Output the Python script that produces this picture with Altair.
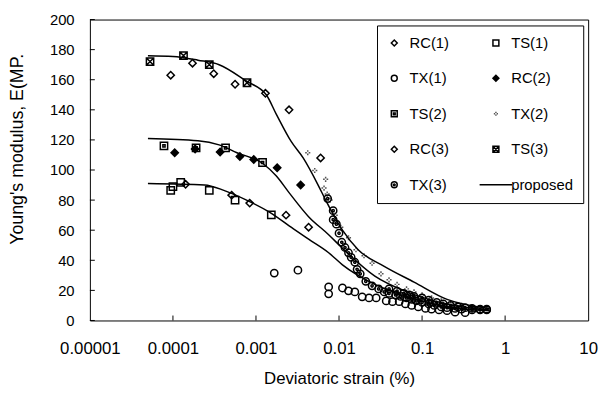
import altair as alt
import pandas as pd

# ---------------- data ----------------
series_names = ["RC(1)", "TS(1)", "TX(1)", "RC(2)", "TS(2)", "TX(2)",
                "RC(3)", "TS(3)", "TX(3)", "proposed"]

rc1_x = [1.42e-4, 5.1e-4, 8.4e-4, 2.3e-3, 4.3e-3]
rc1_y = [90.5, 83.3, 78, 70, 62]
ts1_x = [9.4e-5, 1.0e-4, 1.24e-4, 2.74e-4, 5.6e-4, 1.53e-3]
ts1_y = [86.5, 89, 91.8, 86.5, 80, 70.2]
tx1_x = [1.66e-3, 3.2e-3, 7.5e-3, 7.5e-3, 1.1e-2, 1.3e-2, 1.55e-2, 1.9e-2, 2.3e-2,
         2.8e-2, 3.7e-2, 4.4e-2, 5.3e-2, 6.3e-2, 7.5e-2, 9e-2, 0.11, 0.13, 0.16,
         0.2, 0.25, 0.33, 0.6]
tx1_y = [31.5, 33.4, 22.3, 17.7, 21.6, 19.7, 19, 15.7, 15, 15, 13, 12.5, 12.5, 11,
         10, 9, 8, 7.5, 7, 6.5, 5.5, 5.2, 7]

rc2_x = [1.05e-4, 1.85e-4, 3.7e-4, 6.4e-4, 9.4e-4, 1.8e-3, 3.45e-3]
rc2_y = [111.5, 114, 112, 109, 107, 101.5, 90]
ts2_x = [7.8e-5, 1.9e-4, 4.3e-4, 1.2e-3]
ts2_y = [116, 114.7, 114.7, 105]
tx2_x = [4.2e-3, 5.1e-3, 6.6e-3, 6.9e-3, 7.2e-3, 7.8e-3, 9e-3, 1.05e-2, 1.3e-2,
         1.6e-2, 2.0e-2, 2.5e-2, 3.2e-2, 4.0e-2, 5.0e-2, 6.5e-2, 8e-2, 0.1, 0.13,
         0.17, 0.22, 0.3, 0.4, 0.5]
tx2_y = [111.5, 99.7, 88, 93.8, 84, 80, 70, 62, 55, 47, 43, 38, 31, 27, 24, 21, 19,
         17, 15, 13, 11, 10, 9, 8.5]

rc3_x = [9.4e-5, 1.72e-4, 3.1e-4, 5.6e-4, 1.3e-3, 2.5e-3, 6.0e-3]
rc3_y = [163, 171, 164, 157, 151, 140, 108]
ts3_x = [5.3e-5, 1.34e-4, 2.74e-4, 7.8e-4]
ts3_y = [172, 176, 170, 158]
tx3_x = [7.3e-3, 8.5e-3, 8.5e-3, 9.3e-3, 1.0e-2, 1.08e-2, 1.18e-2, 1.3e-2, 1.4e-2,
         1.55e-2, 1.65e-2, 1.8e-2, 2.1e-2, 2.5e-2, 3.0e-2, 3.5e-2, 4.0e-2, 4.8e-2,
         5.5e-2, 6.5e-2, 7.5e-2, 8.5e-2, 0.1, 0.12, 0.14, 0.17, 0.2, 0.25, 0.3,
         0.4, 0.5, 0.6,
         4.0e-2, 5.0e-2, 6.0e-2, 7.0e-2, 8.0e-2, 0.1, 0.12, 0.15, 0.18, 0.22,
         0.27, 0.33, 0.4, 0.5]
tx3_y = [81, 73, 67, 64, 58, 52, 48.5, 45, 42, 38.7, 34, 31, 26, 23, 21, 19, 18, 17,
         16, 15, 14, 13, 12, 11, 10, 9, 8.5, 8, 7.5, 7, 7, 7.5,
         21, 19.5, 18, 17, 16, 15, 13.5, 12, 11, 10, 9, 8.5, 8, 7.5]

# proposed curves
c1_x = [5e-5, 2.4e-4, 4.1e-4, 7.7e-4, 1.45e-3, 2.8e-3, 4.3e-3, 7.5e-3, 1.1e-2,
        2.7e-2, 8e-2, 0.24, 0.65]
c1_y = [91, 90, 86.5, 80, 72, 61, 54, 45, 37, 24, 14.4, 8.5, 6.5]
c2_x = [5e-5, 2e-4, 3.6e-4, 5.9e-4, 1.23e-3, 1.76e-3, 2.5e-3, 4.3e-3, 7.5e-3,
        1.1e-2, 2.7e-2, 6.6e-2, 0.24, 0.65]
c2_y = [121, 119.5, 116.7, 111.5, 104, 96, 85, 69, 57, 48, 29.5, 19, 10, 7]
c3_x = [5e-5, 1e-4, 2e-4, 3.6e-4, 7.7e-4, 1.33e-3, 1.76e-3, 2.65e-3, 3.7e-3,
        5.6e-3, 6.9e-3, 1.1e-2, 1.7e-2, 3.5e-2, 8e-2, 0.2, 0.65]
c3_y = [176, 175.5, 173, 170, 159, 150, 137, 119, 108, 90, 80, 60, 47, 36, 25.5,
        14, 8]

x_ticks = [1e-5, 1e-4, 1e-3, 1e-2, 1e-1, 1, 10]
inner_x_ticks = [1e-4, 1e-3, 1e-2, 1e-1, 1]
y_ticks = [0, 20, 40, 60, 80, 100, 120, 140, 160, 180, 200]

# ---------------- tables ----------------
pts = []
for name, xs, ys in [("RC(1)", rc1_x, rc1_y), ("TS(1)", ts1_x, ts1_y),
                     ("TX(1)", tx1_x, tx1_y), ("RC(2)", rc2_x, rc2_y),
                     ("TS(2)", ts2_x, ts2_y), ("TX(2)", tx2_x, tx2_y),
                     ("RC(3)", rc3_x, rc3_y), ("TS(3)", ts3_x, ts3_y),
                     ("TX(3)", tx3_x, tx3_y)]:
    for a, b in zip(xs, ys):
        pts.append({"strain": a, "E": b, "series": name})
pts_df = pd.DataFrame(pts)

curves = []
for cid, xs, ys in [("c1", c1_x, c1_y), ("c2", c2_x, c2_y), ("c3", c3_x, c3_y)]:
    for i, (a, b) in enumerate(zip(xs, ys)):
        curves.append({"strain": a, "E": b, "curve": cid, "i": i})
curve_df = pd.DataFrame(curves)

FONT = "Liberation Sans"

x_scale = alt.Scale(type="log", domain=[1e-5, 10], nice=False)
y_scale = alt.Scale(domain=[0, 200], nice=False)

x_axis = alt.Axis(values=x_ticks, format=".5~f", tickSize=0, labelPadding=20,
                  labelFontSize=17, labelFont=FONT, labelColor="black",
                  labelFlush=False, labelOverlap=False, domain=False, grid=False,
                  title="Deviatoric strain (%)", titleFont=FONT, titleFontSize=17,
                  titleFontWeight="normal", titleColor="black",
                  titleY=59, titleBaseline="middle")
y_axis = alt.Axis(values=y_ticks, tickSize=0, labelPadding=16, labelFontSize=15,
                  labelFont=FONT, labelColor="black", labelOverlap=False,
                  labelFlush=False, labelBound=False,
                  domain=False, grid=False,
                  title="Young's modulus, E(MP.", titleFont=FONT, titleFontSize=18,
                  titleFontWeight="normal", titleColor="black", titleAngle=270,
                  titleX=-73, titleY=131, titleAlign="center",
                  titleBaseline="middle")

shape_range = [
    "diamond",
    "square",
    "circle",
    "diamond",
    "M-1,-1H1V1H-1Z M-0.3,-0.3H0.3V0.3H-0.3Z",
    "M-0.7,0H-0.25M0.25,0H0.7M0,-0.7V-0.25M0,0.25V0.7",
    "diamond",
    "M-1,-1H1V1H-1Z M-1,-1L1,1 M1,-1L-1,1",
    "M-1,0A1,1 0 1,1 1,0A1,1 0 1,1 -1,0Z M-0.3,0A0.3,0.3 0 1,1 0.3,0A0.3,0.3 0 1,1 -0.3,0Z",
    "M-5.5,0H5.5",
]
fill_range = ["transparent", "transparent", "transparent", "black", "transparent",
              "transparent", "transparent", "transparent", "transparent",
              "transparent"]
stroke_range = ["black", "black", "black", "black", "black", "#555555",
                "black", "black", "black", "black"]

legend = alt.Legend(orient="none", legendX=291, legendY=6, columns=2,
                    direction="horizontal", title=None,
                    strokeColor="black", padding=10, labelFontSize=15,
                    labelFont=FONT, labelColor="black", symbolSize=36,
                    columnPadding=28, rowPadding=20, labelOffset=8,
                    symbolStrokeWidth=1.5, labelLimit=200)

X = alt.X("strain:Q", scale=x_scale, axis=x_axis)
Y = alt.Y("E:Q", scale=y_scale, axis=y_axis)

points = alt.Chart(pts_df).mark_point(size=55, strokeWidth=1.5, opacity=1).encode(
    x=X,
    y=Y,
    shape=alt.Shape("series:N", scale=alt.Scale(domain=series_names, range=shape_range),
                    legend=legend),
    fill=alt.Fill("series:N", scale=alt.Scale(domain=series_names, range=fill_range),
                  legend=legend),
    stroke=alt.Stroke("series:N", scale=alt.Scale(domain=series_names, range=stroke_range),
                      legend=legend),
)

lines = alt.Chart(curve_df).mark_line(color="black", strokeWidth=1.5,
                                      interpolate="monotone").encode(
    x=X,
    y=Y,
    detail="curve:N",
    order="i:Q",
)

ytick_df = pd.DataFrame({"E": y_ticks})
xtick_df = pd.DataFrame({"strain": inner_x_ticks})

yticks = alt.Chart(ytick_df).mark_rule(color="black", strokeWidth=1).encode(
    y=Y,
    x=alt.value(0), x2=alt.value(5),
)
xticks = alt.Chart(xtick_df).mark_rule(color="black", strokeWidth=1).encode(
    x=X,
    y=alt.value(305), y2=alt.value(300),
)

chart = alt.layer(points, lines, yticks, xticks).properties(
    width=505, height=305,
    autosize=alt.AutoSizeParams(type="none"),
    padding={"left": 83, "top": 9, "right": 12, "bottom": 86},
    background="white",
).configure_view(stroke="black", strokeWidth=1).configure_legend(strokeWidth=1)

chart.save("out.html", embed_options={"renderer": "svg", "actions": False})
